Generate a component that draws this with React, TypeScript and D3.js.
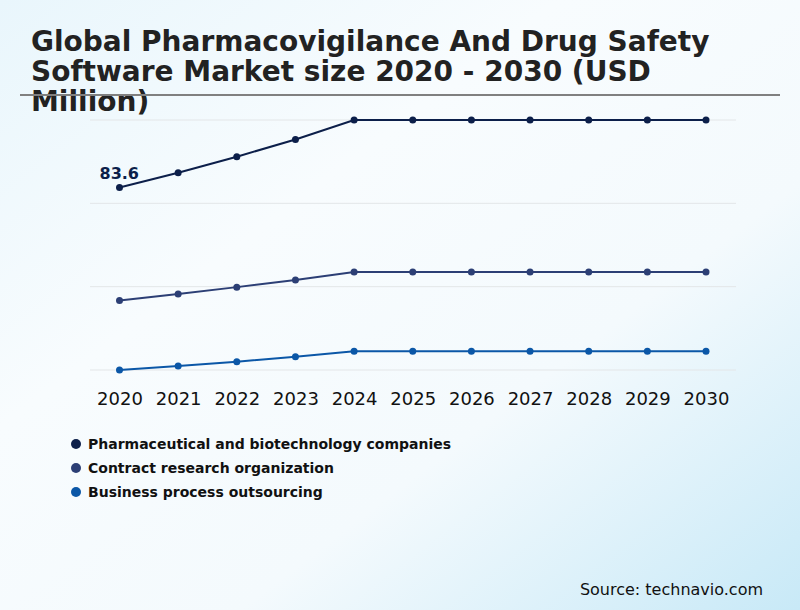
import React, { useEffect, useRef } from 'react';
import * as d3 from 'd3';

// Years on the x axis
const years: string[] = ['2020', '2021', '2022', '2023', '2024', '2025', '2026', '2027', '2028', '2029', '2030'];

// Segment values (USD Million)
const pharmaValues: number[] = [83.6, 88.9, 94.7, 100.9, 107.9, 107.9, 107.9, 107.9, 107.9, 107.9, 107.9];
const croValues: number[] = [43.0, 45.3, 47.8, 50.4, 53.2, 53.2, 53.2, 53.2, 53.2, 53.2, 53.2];
const bpoValues: number[] = [18.0, 19.4, 21.0, 22.8, 24.7, 24.7, 24.7, 24.7, 24.7, 24.7, 24.7];

const seriesNames: string[] = [
    'Pharmaceutical and biotechnology companies',
    'Contract research organization',
    'Business process outsourcing'
];
const seriesColors: string[] = ['#0c1f4a', '#2c3f75', '#0b57a7'];

const titleLines: string[] = [
    'Global Pharmacovigilance And Drug Safety',
    'Software Market size 2020 - 2030 (USD',
    'Million)'
];

const App: React.FC = () => {
    const svgRef = useRef<SVGSVGElement>(null);

    useEffect(() => {
        if (!svgRef.current) return;
        const width = 800;
        const height = 610;
        const font = '"DejaVu Sans", sans-serif';

        const svg = d3.select(svgRef.current);
        svg.selectAll('*').remove();
        svg.attr('width', width).attr('height', height);

        // Background gradient
        const defs = svg.append('defs');
        const grad = defs.append('linearGradient')
            .attr('id', 'bg')
            .attr('x1', '0').attr('y1', '0')
            .attr('x2', '1').attr('y2', '1');
        grad.append('stop').attr('offset', '0%').attr('stop-color', '#e9f6fc');
        grad.append('stop').attr('offset', '35%').attr('stop-color', '#f8fcfe');
        grad.append('stop').attr('offset', '65%').attr('stop-color', '#f4fafd');
        grad.append('stop').attr('offset', '100%').attr('stop-color', '#c8e9f7');
        svg.append('rect').attr('width', width).attr('height', height).attr('fill', 'url(#bg)');

        // Title
        svg.append('g').selectAll('text')
            .data(titleLines)
            .enter().append('text')
            .attr('x', 31)
            .attr('y', (_, i) => 51 + i * 30)
            .attr('font-family', font)
            .attr('font-weight', 'bold')
            .attr('font-size', 28)
            .attr('fill', '#222')
            .text(d => d);

        svg.append('line')
            .attr('x1', 20).attr('x2', 780)
            .attr('y1', 95).attr('y2', 95)
            .attr('stroke', '#808080')
            .attr('stroke-width', 2);

        // Scales
        const all = [...pharmaValues, ...croValues, ...bpoValues];
        const yMin = d3.min(all) as number;
        const yMax = d3.max(all) as number;

        const x = d3.scalePoint<string>()
            .domain(years)
            .range([119.5, 706]);

        const y = d3.scaleLinear()
            .domain([yMin, yMax])
            .range([370, 120]);

        // Grid lines
        const gridTicks = d3.range(4).map(i => yMin + (yMax - yMin) * i / 3);
        svg.append('g').selectAll('line')
            .data(gridTicks)
            .enter().append('line')
            .attr('x1', 90).attr('x2', 736)
            .attr('y1', d => y(d)).attr('y2', d => y(d))
            .attr('stroke', '#e3e6e8')
            .attr('stroke-width', 1);

        // X axis labels
        const xAxis = d3.axisBottom(x).tickSize(0).tickPadding(0);
        const xg = svg.append('g')
            .attr('transform', 'translate(0,388)')
            .call(xAxis);
        xg.select('.domain').remove();
        xg.selectAll('text')
            .attr('font-family', font)
            .attr('font-size', 18)
            .attr('fill', '#111')
            .attr('dy', '0.95em');

        // Lines and dots
        const allSeries = [pharmaValues, croValues, bpoValues];
        const line = d3.line<number>()
            .x((_, i) => x(years[i]) as number)
            .y(d => y(d));

        allSeries.forEach((vals, s) => {
            svg.append('path')
                .datum(vals)
                .attr('fill', 'none')
                .attr('stroke', seriesColors[s])
                .attr('stroke-width', 2)
                .attr('d', line);

            svg.append('g').selectAll('circle')
                .data(vals)
                .enter().append('circle')
                .attr('cx', (_, i) => x(years[i]) as number)
                .attr('cy', d => y(d))
                .attr('r', 3.5)
                .attr('fill', seriesColors[s]);
        });

        // First value label
        svg.append('text')
            .attr('x', (x(years[0]) as number) - 20)
            .attr('y', y(pharmaValues[0]) - 9)
            .attr('font-family', font)
            .attr('font-weight', 'bold')
            .attr('font-size', 16)
            .attr('fill', '#0c1f4a')
            .text(pharmaValues[0].toFixed(1));

        // Legend
        const legend = svg.append('g').selectAll('g')
            .data(seriesNames)
            .enter().append('g')
            .attr('transform', (_, i) => `translate(76,${444 + i * 24})`);

        legend.append('circle')
            .attr('r', 5)
            .attr('fill', (_, i) => seriesColors[i]);

        legend.append('text')
            .attr('x', 12)
            .attr('y', 5)
            .attr('font-family', font)
            .attr('font-weight', 'bold')
            .attr('font-size', 14)
            .attr('fill', '#111')
            .text(d => d);

        // Source
        svg.append('text')
            .attr('x', 763)
            .attr('y', 595)
            .attr('text-anchor', 'end')
            .attr('font-family', font)
            .attr('font-size', 16)
            .attr('fill', '#111')
            .text('Source: technavio.com');
    }, []);

    return (
        <div style={{ position: 'absolute', left: 0, top: 0 }}>
            <svg ref={svgRef} style={{ display: 'block' }}></svg>
        </div>
    );
};

export default App;
